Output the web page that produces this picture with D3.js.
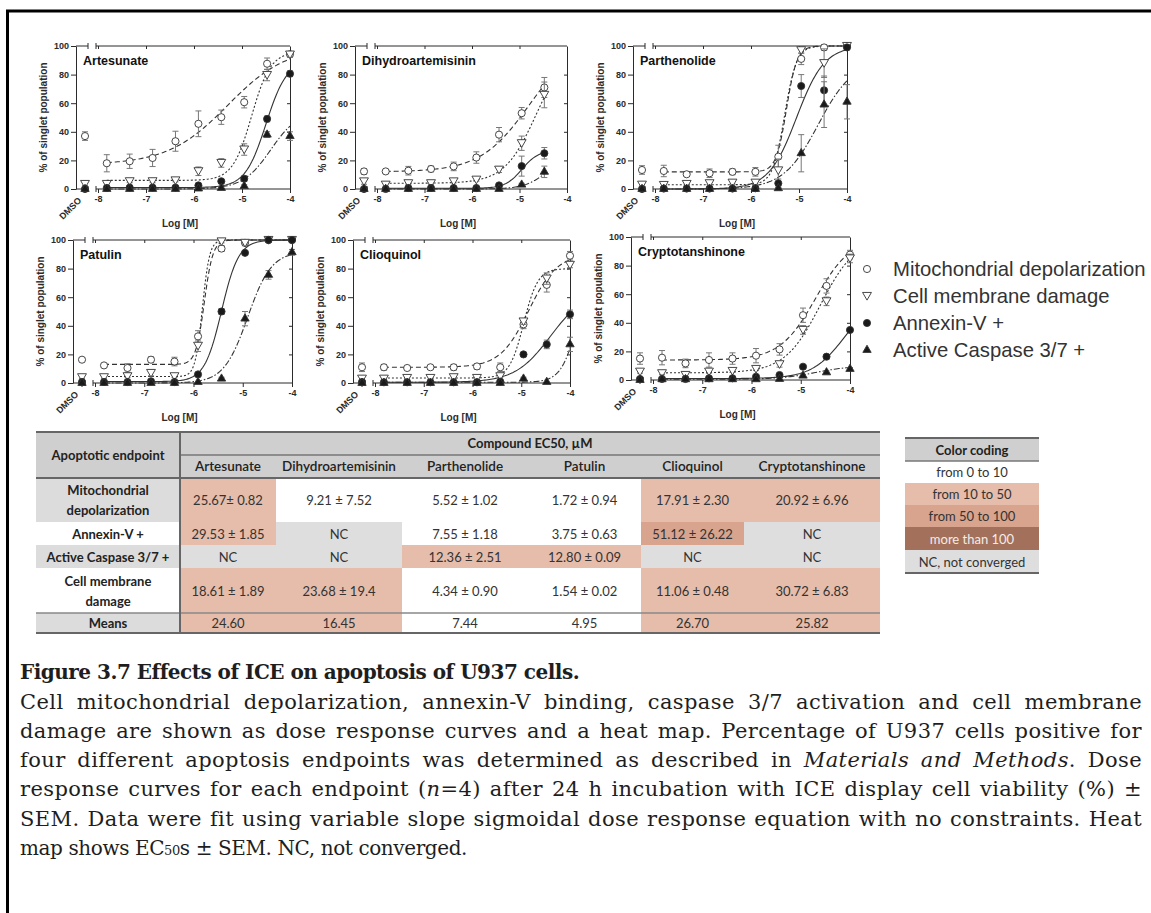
<!DOCTYPE html>
<html>
<head>
<meta charset="utf-8">
<script src="https://cdn.jsdelivr.net/npm/d3@7"></script>
<style>
  body { margin: 0; background: #fff; }
  #wrap { position: relative; width: 1151px; height: 913px; overflow: hidden; background: #fff; }
  #wrap svg { position: absolute; left: 0; top: 0; }
  .cap { position: absolute; left: 20px; width: 1122px; font-family: "DejaVu Serif", serif; font-size: 20px; line-height: 23px; color: #1e1e1e; white-space: nowrap; }
  .just { text-align: justify; text-align-last: justify; font-size: 21px; letter-spacing: 0.4px; }
</style>
</head>
<body>
<div id="wrap">
  <svg id="fig" width="1151" height="913"></svg>
  <div class="cap" style="top:661px;font-weight:bold;letter-spacing:-0.5px">Figure 3.7 Effects of ICE on apoptosis of U937 cells.</div>
  <div class="cap just" style="top:691px">Cell mitochondrial depolarization, annexin-V binding, caspase 3/7 activation and cell membrane</div>
  <div class="cap just" style="top:720px">damage are shown as dose response curves and a heat map. Percentage of U937 cells positive for</div>
  <div class="cap just" style="top:749px">four different apoptosis endpoints was determined as described in <i>Materials and Methods</i>. Dose</div>
  <div class="cap just" style="top:778px">response curves for each endpoint (<i>n</i>=4) after 24 h incubation with ICE display cell viability (%) ±</div>
  <div class="cap just" style="top:808px">SEM. Data were fit using variable slope sigmoidal dose response equation with no constraints. Heat</div>
  <div class="cap" style="top:837px;letter-spacing:-0.4px">map shows EC<span style="font-size:13px">50</span>s ± SEM. NC, not converged.</div>
</div>
<script>
function main() {

    const compounds = ["Artesunate", "Dihydroartemisinin", "Parthenolide", "Patulin", "Clioquinol", "Cryptotanshinone"];
    const endpoints = ["Mitochondrial depolarization", "Cell membrane damage", "Annexin-V +", "Active Caspase 3/7 +"];
    const logDoses = [-7.817, -7.34, -6.863, -6.386, -5.908, -5.431, -4.954, -4.477, -4];
    const xTicks = [-8, -7, -6, -5, -4];
    const yTicks = [0, 20, 40, 60, 80, 100];

    // first value of each row is the DMSO control, then the 9 doses
    const mitoMean = [
        [37, 18, 19.4, 21.7, 33.4, 45.6, 50.2, 60.7, 87.6, 94.2],
        [12.3, 12.3, 12.8, 14, 15.8, 22, 38, 53, 71, null],
        [13.3, 12.6, 10.3, 11, 12, 12, 22.6, 91, 99, 100],
        [16.3, 12.3, 10.5, 16.3, 15, 32.6, 94, 98, 100, 100],
        [11, 11, 10.5, 11, 11, 11.6, 11, 41, 68.6, 89],
        [15, 15.6, 11.6, 14, 15, 17, 21.4, 45.3, 65.8, 87.7]
    ];
    const mitoSem = [
        [3, 6, 5, 6, 7, 9, 5, 4, 4, 2],
        [2, 1, 3, 2, 3, 4, 5, 4, 7, null],
        [3, 4, 1, 3, 2, 3, 8, 4, 2, 1],
        [1, 1, 3, 2, 3, 4, 2, 2, 1, 1],
        [3, 2, 1, 1, 2, 2, 3, 3, 5, 3],
        [4, 5, 3, 5, 4, 5, 4, 5, 5, 3]
    ];
    const membMean = [
        [3.5, 3.5, 5.4, 5.4, 6, 12.4, 18.2, 27.6, 79.7, 94],
        [5.3, 3, 4, 4, 5.3, 6.5, 13.5, 32, 65.8, null],
        [3, 2.8, 3.5, 4, 4.4, 4.4, 13, 97, 88, 100],
        [4, 4, 4.7, 7, 4.7, 26, 99, 98, 100, 100],
        [3, 3, 3.5, 3.5, 4, 3.5, 4.7, 43, 73, 82.6],
        [5.8, 4.7, 3.5, 5.8, 6.3, 7.7, 11, 35, 55, 85]
    ];
    const membSem = [
        [1, 1, 1, 1, 1, 3, 3, 4, 4, 2],
        [2, 1, 1, 1, 1, 1, 2, 5, 9, null],
        [1, 1, 1, 1, 1, 1, 8, 2, 10, 1],
        [1, 1, 1, 2, 1, 4, 1, 1, 1, 1],
        [1, 1, 1, 1, 1, 1, 1, 2, 4, 2],
        [1, 1, 1, 1, 1, 1, 2, 3, 3, 3]
    ];
    const annexMean = [
        [0, 0.7, 1, 1, 1, 2.5, 5.4, 7.2, 49, 80.6],
        [0, 0, 0.7, 0.7, 0.7, 0.7, 2.5, 16, 25, null],
        [0, 0.3, 0.3, 0.3, 0.3, 0.5, 4, 72, 69, 99],
        [0.7, 0.7, 0.7, 1.2, 0.7, 6, 50, 91, 100, 100],
        [0.7, 0.5, 0.5, 0.5, 0.5, 0.5, 1, 20, 27, 48],
        [0.7, 0.7, 0.7, 1.2, 1.2, 2.3, 3.5, 9.3, 16.3, 35]
    ];
    const annexSem = [
        [1, 0, 0, 0, 0, 0, 1, 2, 2, 2],
        [1, 0, 0, 0, 0, 0, 1, 7, 4, null],
        [1, 0, 0, 0, 0, 0, 3, 8, 10, 1],
        [2, 0, 0, 0, 0, 1, 2, 1, 0, 0],
        [1, 0, 0, 0, 0, 0, 0, 1, 3, 3],
        [1, 0, 0, 0, 0, 0, 0, 1, 1, 1]
    ];
    const caspMean = [
        [0, 0, 0, 0, 0, 0.3, 0.7, 2, 38, 37],
        [0, 0, 0, 0, 0, 0, 0, 3, 12, null],
        [0, 0, 0, 0, 0, 0, 0.5, 25, 59, 61],
        [0, 0, 0, 0, 0, 0.7, 3, 45, 75.6, 91.4],
        [0, 0, 0, 0, 0, 0, 0, 3, 0.7, 27],
        [0, 0.5, 0.5, 0.5, 0.5, 0.5, 0.7, 3, 5.3, 7.7]
    ];
    const caspSem = [
        [0, 0, 0, 0, 0, 0, 0, 1, 2, 3],
        [0, 0, 0, 0, 0, 0, 0, 1, 4, null],
        [0, 0, 0, 0, 0, 0, 1, 13, 16, 12],
        [0, 0, 0, 0, 0, 0, 1, 5, 3, 2],
        [0, 0, 0, 0, 0, 0, 0, 1, 0, 5],
        [0, 0, 0, 0, 0, 0, 0, 0, 1, 1]
    ];

    // sigmoid fits: [bottom, top, logEC50, hill]
    const mitoFit = [[17, 100, -5.3, 0.7], [12, 105, -4.8, 0.85], [12, 100, -5.26, 4], [13, 100, -5.78, 5], [11, 90, -4.85, 1.5], [14, 100, -4.7, 1.2]];
    const membFit = [[6, 96, -4.8, 2.2], [4, 100, -4.65, 1.3], [3, 100, -5.3, 3.5], [4.5, 100, -5.82, 6], [3.5, 80, -4.95, 3], [5, 100, -4.6, 1.2]];
    const annexFit = [[1, 90, -4.5, 2], [0.5, 27, -4.95, 2.5], [0, 100, -5.05, 1.5], [1, 100, -5.43, 2.5], [0.5, 65, -4.4, 1.2], [1, 60, -4.1, 1.3]];
    const caspFit = [[0, 55, -4.4, 1.5], [0, 25, -4.4, 1.8], [0, 90, -4.6, 1.2], [0, 92, -4.9, 1.8], [0.5, 100, -3.8, 2.5], [0.5, 10, -4.7, 1.2]];

    // heat map table
    const tableCols = ["Artesunate", "Dihydroartemisinin", "Parthenolide", "Patulin", "Clioquinol", "Cryptotanshinone"];
    const rowLabels = [["Mitochondrial", "depolarization"], ["Annexin-V +"], ["Active Caspase 3/7 +"], ["Cell membrane", "damage"], ["Means"]];
    const mitoEC50 = ["25.67\u00b1 0.82", "9.21 \u00b1 7.52", "5.52 \u00b1 1.02", "1.72 \u00b1 0.94", "17.91 \u00b1 2.30", "20.92 \u00b1 6.96"];
    const annexEC50 = ["29.53 \u00b1 1.85", "NC", "7.55 \u00b1 1.18", "3.75 \u00b1 0.63", "51.12 \u00b1 26.22", "NC"];
    const caspEC50 = ["NC", "NC", "12.36 \u00b1 2.51", "12.80 \u00b1 0.09", "NC", "NC"];
    const membEC50 = ["18.61 \u00b1 1.89", "23.68 \u00b1 19.4", "4.34 \u00b1 0.90", "1.54 \u00b1 0.02", "11.06 \u00b1 0.48", "30.72 \u00b1 6.83"];
    const meansEC50 = ["24.60", "16.45", "7.44", "4.95", "26.70", "25.82"];
    const colorCoding = ["from 0 to 10", "from 10 to 50", "from 50 to 100", "more than 100", "NC, not converged"];

    const svg = d3.select("#fig");
    const ink = "#2b2b2b";
    const axisFont = "'Liberation Sans', Arial, sans-serif";

    // outer frame of the figure
    svg.append("rect")
        .attr("x", 7.5).attr("y", 11)
        .attr("width", 1300).attr("height", 1100)
        .attr("fill", "none").attr("stroke", "#000").attr("stroke-width", 3);

    // panel geometry
    const panelLeft = [76, 355, 633, 73, 353, 631];
    const panelRight = [290, 567, 847, 292, 570, 850];
    const panelTop = [46, 46, 46, 240, 240, 237];
    const panelBottom = [189, 189, 189, 383, 383, 380];

    const series = [
        {mean: mitoMean, sem: mitoSem, fit: mitoFit, type: d3.symbolCircle, fill: "#fff", dash: "5,3", rot: 0, size: 40},
        {mean: membMean, sem: membSem, fit: membFit, type: d3.symbolTriangle, fill: "#fff", dash: "2,2", rot: 180, size: 34},
        {mean: annexMean, sem: annexSem, fit: annexFit, type: d3.symbolCircle, fill: "#1a1a1a", dash: null, rot: 0, size: 40},
        {mean: caspMean, sem: caspSem, fit: caspFit, type: d3.symbolTriangle, fill: "#1a1a1a", dash: "6,2,1.5,2", rot: 0, size: 30}
    ];

    function sigmoid(p, x) {
        return p[0] + (p[1] - p[0]) / (1 + Math.pow(10, p[3] * (p[2] - x)));
    }

    compounds.forEach((name, i) => {
        const x0 = panelLeft[i];
        const x = d3.scaleLinear().domain([-8, -4]).range([x0 + 22, panelRight[i]]);
        const y = d3.scaleLinear().domain([0, 100]).range([panelBottom[i], panelTop[i]]);
        const dmsoX = x0 + 9;
        const g = svg.append("g");

        // y axis
        const yAxis = g.append("g")
            .attr("transform", `translate(${x0},0)`)
            .call(d3.axisLeft(y).tickValues(yTicks).tickSize(5).tickSizeOuter(0).tickPadding(2));
        yAxis.selectAll("text").style("font", `bold 9px ${axisFont}`).attr("fill", ink);
        yAxis.selectAll("line,path").attr("stroke", ink);

        // x axis
        const xAxis = g.append("g")
            .attr("transform", `translate(0,${y(0)})`)
            .call(d3.axisBottom(x).tickValues(xTicks).tickSize(4).tickSizeOuter(0).tickPadding(3).tickFormat(d => String(d)));
        xAxis.select(".domain").remove();
        xAxis.selectAll("text").style("font", `bold 9px ${axisFont}`).attr("fill", ink);
        xAxis.selectAll("line").attr("stroke", ink);

        // top ticks and right frame ticks
        const topAxis = g.append("g")
            .attr("transform", `translate(0,${y(100)})`)
            .call(d3.axisTop(x).tickValues(xTicks.slice(0, 4)).tickSize(-3).tickFormat(""));
        topAxis.select(".domain").remove();
        topAxis.selectAll("line").attr("stroke", ink);
        const rightAxis = g.append("g")
            .attr("transform", `translate(${x(-4)},0)`)
            .call(d3.axisRight(y).tickValues(yTicks.slice(1, 5)).tickSize(-3).tickSizeOuter(0).tickFormat(""));
        rightAxis.selectAll("line,path").attr("stroke", ink);

        // broken frame lines (DMSO segment + dose segment) on bottom and top
        [y(0), y(100)].forEach(yy => {
            const segs = [[x0, x0 + 12], [x0 + 20, x(-4)]];
            segs.forEach(s => {
                g.append("line").attr("x1", s[0]).attr("x2", s[1]).attr("y1", yy).attr("y2", yy)
                    .attr("stroke", ink).attr("stroke-width", 1);
            });
            [x0 + 12, x0 + 20].forEach(bx => {
                g.append("line").attr("x1", bx).attr("x2", bx).attr("y1", yy - 3).attr("y2", yy + 3)
                    .attr("stroke", ink).attr("stroke-width", 1);
            });
        });
        g.append("line").attr("x1", dmsoX).attr("x2", dmsoX).attr("y1", y(0)).attr("y2", y(0) + 4).attr("stroke", ink);

        g.append("text")
            .attr("transform", `translate(${x0 + 6},${y(0) + 12}) rotate(-45)`)
            .attr("text-anchor", "end")
            .style("font", `bold 9px ${axisFont}`).attr("fill", ink)
            .text("DMSO");

        g.append("text")
            .attr("x", (x0 + panelRight[i]) / 2 - 3).attr("y", y(0) + 38)
            .attr("text-anchor", "middle")
            .style("font", `bold 10px ${axisFont}`).attr("fill", ink)
            .text("Log [M]");

        g.append("text")
            .attr("transform", `translate(${x0 - 29},${(y(0) + y(100)) / 2}) rotate(-90)`)
            .attr("text-anchor", "middle")
            .style("font", `bold 10px ${axisFont}`).attr("fill", ink)
            .text("% of singlet population");

        g.append("text")
            .attr("x", x0 + 7).attr("y", y(100) + 19)
            .style("font", `bold 12.5px ${axisFont}`).attr("fill", "#111")
            .text(name);

        // fitted curves
        series.forEach(s => {
            const vals = s.mean[i];
            const last = logDoses.filter((d, k) => vals[k + 1] != null);
            const lo = logDoses[0], hi = last[last.length - 1];
            const pts = d3.range(0, 121).map(k => lo + (hi - lo) * k / 120);
            g.append("path")
                .datum(pts)
                .attr("fill", "none")
                .attr("stroke", "#333")
                .attr("stroke-width", 1.1)
                .attr("stroke-dasharray", s.dash)
                .attr("d", d3.line().x(d => x(d)).y(d => y(sigmoid(s.fit[i], d))));
        });

        // points with error bars
        series.forEach(s => {
            const pts = s.mean[i].map((v, k) => ({
                px: k === 0 ? dmsoX : x(logDoses[k - 1]), v: v, e: s.sem[i][k]
            })).filter(p => p.v != null);

            pts.filter(p => p.e > 0).forEach(p => {
                const eg = g.append("g").attr("stroke", "#777").attr("stroke-width", 1);
                eg.append("line").attr("x1", p.px).attr("x2", p.px).attr("y1", y(p.v - p.e)).attr("y2", y(Math.min(p.v + p.e, 102)));
                [p.v - p.e, Math.min(p.v + p.e, 102)].forEach(ev => {
                    eg.append("line").attr("x1", p.px - 3).attr("x2", p.px + 3).attr("y1", y(ev)).attr("y2", y(ev));
                });
            });

            g.selectAll(null)
                .data(pts)
                .enter()
                .append("path")
                .attr("d", d3.symbol().type(s.type).size(s.size))
                .attr("transform", p => `translate(${p.px},${y(p.v) + (s.rot ? -1 : 0)}) rotate(${s.rot})`)
                .attr("fill", s.fill)
                .attr("stroke", "#333")
                .attr("stroke-width", 0.9);
        });
    });

    // legend
    const legY = [269, 296, 323, 350];
    endpoints.forEach((label, k) => {
        const s = series[k];
        svg.append("path")
            .attr("d", d3.symbol().type(s.type).size(s.size))
            .attr("transform", `translate(867,${legY[k] + (s.rot ? -1 : 0)}) rotate(${s.rot})`)
            .attr("fill", s.fill).attr("stroke", "#333").attr("stroke-width", 0.9);
        svg.append("text")
            .attr("x", 893).attr("y", legY[k] + 7)
            .style("font", `20.3px ${axisFont}`).attr("fill", "#333")
            .text(label);
    });

    // ----- heat map table -----
    const tFont = "Lato, 'Open Sans', sans-serif";
    const colEdges = [36, 180, 276, 402, 528, 641, 744, 880];
    const rowEdges = [478, 522, 545, 568, 613, 633];
    const heat = d3.scaleThreshold().domain([10, 50, 100]).range(["#ffffff", "#e6bcaa", "#d8a48d", "#a2705b"]);
    const ncGrey = "#dedede", headGrey = "#cfcfcf", labelGrey = "#dcdcdc";
    const tableData = [mitoEC50, annexEC50, caspEC50, membEC50, meansEC50];
    const t = svg.append("g");

    t.append("rect").attr("x", colEdges[0]).attr("y", 432).attr("width", colEdges[7] - colEdges[0]).attr("height", 46).attr("fill", headGrey);
    t.append("text").attr("x", 108).attr("y", 460).attr("text-anchor", "middle")
        .style("font", `bold 13px ${tFont}`).attr("fill", "#222").text("Apoptotic endpoint");
    t.append("text").attr("x", 530).attr("y", 448).attr("text-anchor", "middle")
        .style("font", `bold 13px ${tFont}`).attr("fill", "#222").text("Compound EC50, \u00b5M");
    tableCols.forEach((c, j) => {
        t.append("text").attr("x", (colEdges[j + 1] + colEdges[j + 2]) / 2).attr("y", 471).attr("text-anchor", "middle")
            .style("font", `600 13.5px ${tFont}`).attr("fill", "#222").text(c);
    });

    tableData.forEach((row, r) => {
        const top = rowEdges[r], h = rowEdges[r + 1] - rowEdges[r];
        t.append("rect").attr("x", colEdges[0]).attr("y", top).attr("width", colEdges[1] - colEdges[0]).attr("height", h)
            .attr("fill", r % 2 === 0 ? labelGrey : "#ffffff");
        const lines = rowLabels[r];
        lines.forEach((ln, li) => {
            t.append("text").attr("x", 108).attr("y", top + h / 2 + 5 + (li - (lines.length - 1) / 2) * 20)
                .attr("text-anchor", "middle").style("font", `bold 13px ${tFont}`).attr("fill", "#222").text(ln);
        });
        row.forEach((txt, j) => {
            const v = parseFloat(txt);
            const fill = isNaN(v) ? ncGrey : heat(v);
            t.append("rect").attr("x", colEdges[j + 1]).attr("y", top).attr("width", colEdges[j + 2] - colEdges[j + 1]).attr("height", h)
                .attr("fill", fill);
            t.append("text").attr("x", (colEdges[j + 1] + colEdges[j + 2]) / 2).attr("y", top + h / 2 + 5)
                .attr("text-anchor", "middle").style("font", `13px ${tFont}`)
                .attr("fill", v > 100 ? "#fff" : "#333").text(txt);
        });
    });

    const rule = (x1, x2, yy, w, c) => t.append("line").attr("x1", x1).attr("x2", x2).attr("y1", yy).attr("y2", yy)
        .attr("stroke", c).attr("stroke-width", w);
    rule(colEdges[0], colEdges[7], 432, 2, "#666");
    rule(colEdges[1], colEdges[7], 455, 1.5, "#777");
    rule(colEdges[0], colEdges[7], 478, 2, "#666");
    rule(colEdges[0], colEdges[7], 613, 1.5, "#888");
    rule(colEdges[0], colEdges[7], 633, 2, "#666");
    t.append("line").attr("x1", 180).attr("x2", 180).attr("y1", 432).attr("y2", 633).attr("stroke", "#666").attr("stroke-width", 2);

    // colour coding key
    const keyEdges = [461, 483, 505, 527, 550, 573];
    const keyFill = heat.range().concat([ncGrey]);
    t.append("rect").attr("x", 905).attr("y", 438).attr("width", 134).attr("height", 23).attr("fill", headGrey);
    t.append("text").attr("x", 972).attr("y", 455).attr("text-anchor", "middle")
        .style("font", `bold 13px ${tFont}`).attr("fill", "#222").text("Color coding");
    colorCoding.forEach((lab, k) => {
        t.append("rect").attr("x", 905).attr("y", keyEdges[k]).attr("width", 134).attr("height", keyEdges[k + 1] - keyEdges[k])
            .attr("fill", keyFill[k]);
        t.append("text").attr("x", 972).attr("y", (keyEdges[k] + keyEdges[k + 1]) / 2 + 5).attr("text-anchor", "middle")
            .style("font", `13px ${tFont}`).attr("fill", k === 3 ? "#f4ece8" : "#333").text(lab);
    });
    rule(905, 1039, 438, 2, "#666");
    rule(905, 1039, 461, 1.5, "#777");
    rule(905, 1039, 573, 2, "#666");
}
main();
</script>
</body>
</html>
